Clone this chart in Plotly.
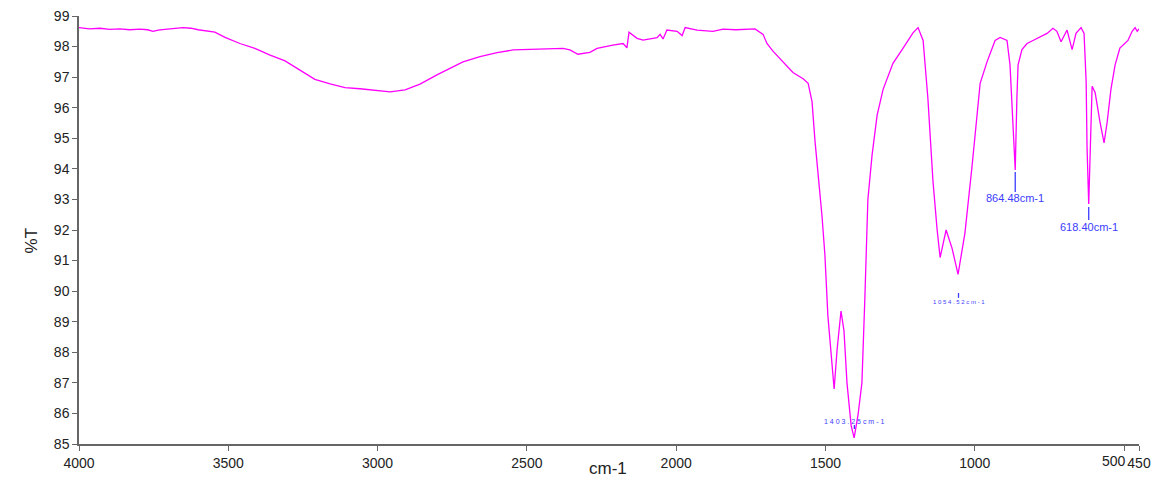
import plotly.graph_objects as go

# Spectrum trace (wavenumber cm-1, %T)
wavenumber = [4000, 3965, 3930, 3897, 3863, 3830, 3796, 3770, 3752, 3735, 3712, 3680, 3652, 3625, 3601,
              3545, 3511, 3461, 3411, 3360, 3310, 3260, 3210, 3159, 3109, 3059, 3009, 2958, 2908,
              2858, 2798, 2714, 2657, 2600, 2546, 2490, 2433, 2379, 2356, 2329, 2289, 2265, 2212,
              2178, 2165, 2158, 2131, 2111, 2064, 2054, 2044, 2031, 1997, 1980, 1970, 1930, 1877,
              1843, 1800, 1763, 1736, 1709, 1696, 1676, 1642, 1609, 1575, 1558, 1545, 1535, 1512,
              1502, 1492, 1478, 1471, 1461, 1448, 1438, 1428, 1414, 1404, 1391, 1378, 1368, 1358,
              1344, 1327, 1307, 1274, 1240, 1207, 1190, 1173, 1157, 1140, 1126, 1116, 1096, 1076,
              1056, 1033, 1009, 982, 959, 932, 915, 892, 882, 872, 864.5, 859, 855, 842, 825, 805,
              781, 758, 738, 725, 711, 691, 674, 661, 644, 634, 627, 624, 618.4, 611, 607, 597,
              591, 581, 567, 557, 544, 530, 514, 497, 487, 473, 463, 456, 450]
transmittance = [98.62, 98.58, 98.6, 98.56, 98.58, 98.55, 98.57, 98.55, 98.5, 98.54, 98.56, 98.6, 98.62, 98.6, 98.55,
                 98.47, 98.3, 98.1, 97.94, 97.72, 97.53, 97.23, 96.93, 96.78, 96.66, 96.62, 96.58, 96.52, 96.58,
                 96.77, 97.09, 97.5, 97.67, 97.8, 97.89, 97.9, 97.92, 97.94, 97.89, 97.75, 97.81, 97.94, 98.05,
                 98.1, 97.96, 98.47, 98.27, 98.21, 98.29, 98.4, 98.25, 98.54, 98.5, 98.36, 98.62, 98.54, 98.5,
                 98.57, 98.55, 98.57, 98.58, 98.4, 98.1, 97.85, 97.5, 97.15, 96.95, 96.8, 96.2, 94.9, 92.5,
                 91.2, 89.2, 87.6, 86.8, 88.1, 89.35, 88.7, 87.0, 85.6, 85.2, 85.95, 87.0, 89.8, 93.0,
                 94.45, 95.76, 96.6, 97.45, 97.95, 98.45, 98.62, 98.2, 96.3, 93.6, 92.0, 91.1, 92.0, 91.4,
                 90.55, 91.9, 94.1, 96.8, 97.5, 98.2, 98.3, 98.2, 97.4, 95.2, 93.96, 96.3, 97.4, 97.9, 98.1, 98.2,
                 98.32, 98.43, 98.6, 98.5, 98.16, 98.54, 97.9, 98.43, 98.62, 98.43, 96.85, 94.7, 92.85, 95.76, 96.7, 96.5,
                 96.1, 95.55, 94.85, 95.5, 96.6, 97.4, 97.95, 98.1, 98.2, 98.5, 98.62, 98.5, 98.58]

# Peak labels
peak_pos = [1403.25, 1054.52, 864.48, 618.40]
peak_text = ["1 4 0 3 . 2 5 c m - 1", "1 0 5 4 . 5 2 c m - 1", "864.48cm-1", "618.40cm-1"]
peak_text_y = [85.75, 89.64, 93.05, 92.1]
peak_tick_top = [85.62, 89.94, 93.9, 92.75]
peak_tick_bottom = [85.49, 89.78, 93.24, 92.33]
peak_font = [7, 6, 11, 11]

x_ticks = [4000, 3500, 3000, 2500, 2000, 1500, 1000, 500, 450]
x_ticktext = ["4000", "3500", "3000", "2500", "2000", "1500", "1000", "", "450"]
y_ticks = list(range(85, 100))

label_color = "#3c3cff"
axis_color = "#666666"
text_color = "#222222"
font_family = "Liberation Sans, Arial, sans-serif"

fig = go.Figure()
fig.add_trace(go.Scatter(x=wavenumber, y=transmittance, mode="lines",
                         line=dict(color="#ff00ff", width=1.3), showlegend=False))

for xp, txt, ty, t0, t1, fs in zip(peak_pos, peak_text, peak_text_y, peak_tick_top, peak_tick_bottom, peak_font):
    fig.add_shape(type="line", x0=xp, x1=xp, y0=t0, y1=t1, xref="x", yref="y",
                  line=dict(color=label_color, width=1.3))
    fig.add_annotation(x=xp, y=ty, xref="x", yref="y", text=txt, showarrow=False,
                       yanchor="middle", xanchor="center",
                       font=dict(color=label_color, size=fs, family=font_family))

# "500" tick label nudged left so it sits next to "450" as in the reference
fig.add_annotation(x=500, y=0, xref="x", yref="paper", text="500", showarrow=False,
                   xanchor="center", yanchor="top", xshift=-10, yshift=-7,
                   font=dict(size=14, color=text_color, family=font_family))

fig.add_annotation(x=-0.0557, y=0.4766, xref="paper", yref="paper", text="%T", textangle=-90,
                   showarrow=False, font=dict(size=17, color=text_color, family=font_family))
fig.add_annotation(x=0.499, y=-0.084, xref="paper", yref="paper", text="cm-1",
                   showarrow=False, font=dict(size=17, color=text_color, family=font_family))

fig.update_xaxes(range=[4000, 450], tickvals=x_ticks, ticktext=x_ticktext,
                 tickangle=0, automargin=False, ticklabeloverflow="allow",
                 showgrid=False, zeroline=False, showline=True, linecolor=axis_color, linewidth=1.5,
                 ticks="outside", ticklen=5, tickcolor=axis_color,
                 tickfont=dict(size=14, color=text_color, family=font_family))
fig.update_yaxes(range=[85, 99], tickvals=y_ticks, showgrid=False, zeroline=False, automargin=False,
                 ticklabeloverflow="allow",
                 showline=True, linecolor=axis_color, linewidth=1.5,
                 ticks="outside", ticklen=5, tickcolor=axis_color,
                 tickfont=dict(size=14, color=text_color, family=font_family))

fig.update_layout(width=1155, height=488, margin=dict(l=79, r=16, t=16, b=44),
                  plot_bgcolor="white", paper_bgcolor="white")

# remove the default page margin so the figure fills the window exactly
fig.write_html("out.html", config={"displayModeBar": False},
               post_script="document.body.style.margin='0';document.body.style.overflow='hidden';")
